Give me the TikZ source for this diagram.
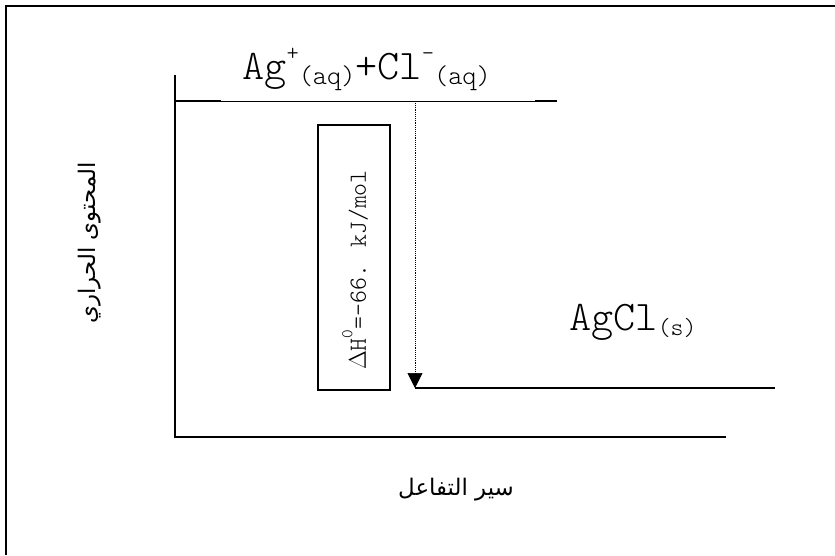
\documentclass[tikz,border=0pt]{standalone}
\usepackage{fontspec}
\usetikzlibrary{arrows.meta,positioning}
\TeXXeTstate=1
\newfontfamily\arabicfont[Script=Arabic]{DejaVu Sans}
\newfontfamily\chemfont{Latin Modern Mono Light}
\newcommand{\lowtxt}[1]{\raisebox{-0.3ex}{\fontsize{23}{23}\selectfont #1}}
\newcommand{\hightxt}[1]{\raisebox{0.45em}{\fontsize{20}{20}\selectfont #1}}
\tikzset{
 frame/.style={line width=1.7pt,draw=black},
 axisline/.style={line width=1.6pt,draw=black},
 level/.style={line width=1.4pt,draw=black},
 thinlevel/.style={line width=0.6pt,draw=black},
 species/.style={font=\chemfont\fontsize{36}{36}\selectfont,inner sep=0pt},
 axislabel/.style={font=\arabicfont\fontsize{19.5}{19.5}\selectfont,inner sep=0pt},
 enthalpybox/.style={rectangle,draw=black,line width=1.1pt,rotate=90,minimum width=7.95cm,minimum height=2.16cm,inner sep=0pt},
 enthalpy/.style={font=\chemfont\fontsize{21}{21}\selectfont,rotate=90,inner sep=0pt},
 drop/.style={-{Triangle[length=0.45cm,width=0.45cm]},densely dotted,line width=0.6pt}}
\begin{document}
\begin{tikzpicture}[x=0.03cm,y=-0.03cm]
\useasboundingbox (0,0) rectangle (835,555);
% frame (top and left edges only)
\draw[frame] (6,555) -- (6,6) -- (835,6);
% axes
\coordinate (origin) at (175,437);
\coordinate (ytop) at (175,75);
\coordinate (xend) at (726,437);
\draw[axisline] (ytop) -- (origin) -- (xend);
\node[axislabel,rotate=90] (ylab) at (90,243) {\beginR المحتوى الحراري\endR};
\node[axislabel] (xlab) at (456,490) {\beginR سير التفاعل\endR};
% reactant level
\coordinate (r1) at (175,101); \coordinate (r2) at (221,101);
\coordinate (r3) at (535,101); \coordinate (r4) at (557,101);
\coordinate (rdrop) at (415,101);
\draw[level] (r1) -- (r2); \draw[thinlevel] (r2) -- (r3); \draw[level] (r3) -- (r4);
\node[species,anchor=base west] (react) at (242,79) {Ag\hightxt{+}\lowtxt{(aq)}+Cl\hightxt{-}\lowtxt{(aq)}};
% product level
\coordinate (p1) at (415,388); \coordinate (p2) at (775,388);
\draw[level] (p1) -- (p2);
\node[species,anchor=base west] (prod) at (569,330) {AgCl\lowtxt{\fontsize{21}{21}\selectfont(s)}};
% enthalpy change
\draw[drop] (rdrop) -- (p1);
\node[enthalpybox] (dhbox) at (354,257.5) {};
\node[enthalpy] (dh) at (355,270) {$\Delta$H\raisebox{0.55em}{\fontsize{14}{14}\selectfont 0}=-66. kJ/mol};
\end{tikzpicture}
\end{document}
